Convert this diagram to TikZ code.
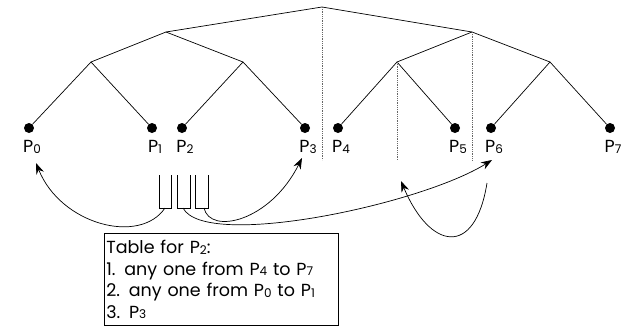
\documentclass[tikz,border=0pt]{standalone}
\usepackage{fontspec}
\setmainfont{Poppins}
\usetikzlibrary{arrows.meta, positioning}

\newcommand{\Pn}[1]{P\raisebox{-0.5pt}{\fontsize{12}{13}\selectfont #1}}

\begin{document}
\begin{tikzpicture}[x=1pt, y=1pt, >={Stealth[length=11pt, width=8pt]}, line width=0.7pt,
  leaf/.style={circle, fill=black, inner sep=0pt, minimum size=10pt},
  plabel/.style={font=\fontsize{17.5}{19}\selectfont, inner sep=0pt},
  guide/.style={densely dotted, black!60, line width=0.8pt}]

% Frame
\useasboundingbox (0,0) rectangle (624,-327);

% Leaves
\foreach \i/\x in {0/29,1/152,2/182,3/305,4/338,5/455,6/491,7/610}{
  \node[leaf] (p\i) at (\x,-128) {};
  \node[plabel, below=7pt of p\i, xshift=3pt] (l\i) {\Pn{\i}};
}

% Inner nodes of the tree
\coordinate (a01) at (91,-62);
\coordinate (a23) at (243,-62);
\coordinate (a45) at (397,-62);
\coordinate (a67) at (550,-62);
\coordinate (b03) at (166,-32);
\coordinate (b47) at (472,-32);
\coordinate (root) at (322,-7);

% Tree edges
\draw (b03) -- (root) -- (b47);
\draw (a01) -- (b03) -- (a23);
\draw (a45) -- (b47) -- (a67);
\draw (p0) -- (a01) -- (p1);
\draw (p2) -- (a23) -- (p3);
\draw (p4) -- (a45) -- (p5);
\draw (p6) -- (a67) -- (p7);

% Dotted splits
\coordinate (d0) at (322,-160);
\coordinate (d1) at (397,-160);
\coordinate (d2) at (472,-160);
\draw[guide] (root) -- (d0);
\draw[guide] (a45) -- (d1);
\draw[guide] (b47) -- (d2);

% Slots of the table
\draw (159,-175) -- (159,-208) -- (171,-208) -- (171,-175);
\draw (177,-175) -- (177,-208) -- (190,-208) -- (190,-175);
\draw (195,-175) -- (195,-208) -- (208,-208) -- (208,-175);
\coordinate (s1) at (165,-208);
\coordinate (s2) at (183,-208);
\coordinate (s3) at (204,-208);

% Arrow ends
\coordinate (t0) at (36,-163);
\coordinate (t3) at (302,-158);
\coordinate (t6) at (492,-160);
\coordinate (c6) at (487,-183);
\coordinate (t5) at (401,-181);

% Pointers
\draw[->] (s1) .. controls (140,-245) and (61,-225) .. (t0);
\draw[->] (s2) .. controls (205,-250) and (420,-205) .. (t6);
\draw[->] (s3) .. controls (210,-235) and (270,-222) .. (t3);
\draw[->] (c6) .. controls (475,-258) and (430,-250) .. (t5);

% Table
\node[draw, anchor=north west, align=left, inner xsep=2pt, inner ysep=2pt,
  text width=230pt, minimum height=92pt, font=\fontsize{17.5}{21.5}\selectfont]
  (tbl) at (104,-233)
  {Table for \Pn{2}:\\
   1. any one from \Pn{4} to \Pn{7}\\
   2. any one from \Pn{0} to \Pn{1}\\
   3. \Pn{3}};

\end{tikzpicture}
\end{document}
